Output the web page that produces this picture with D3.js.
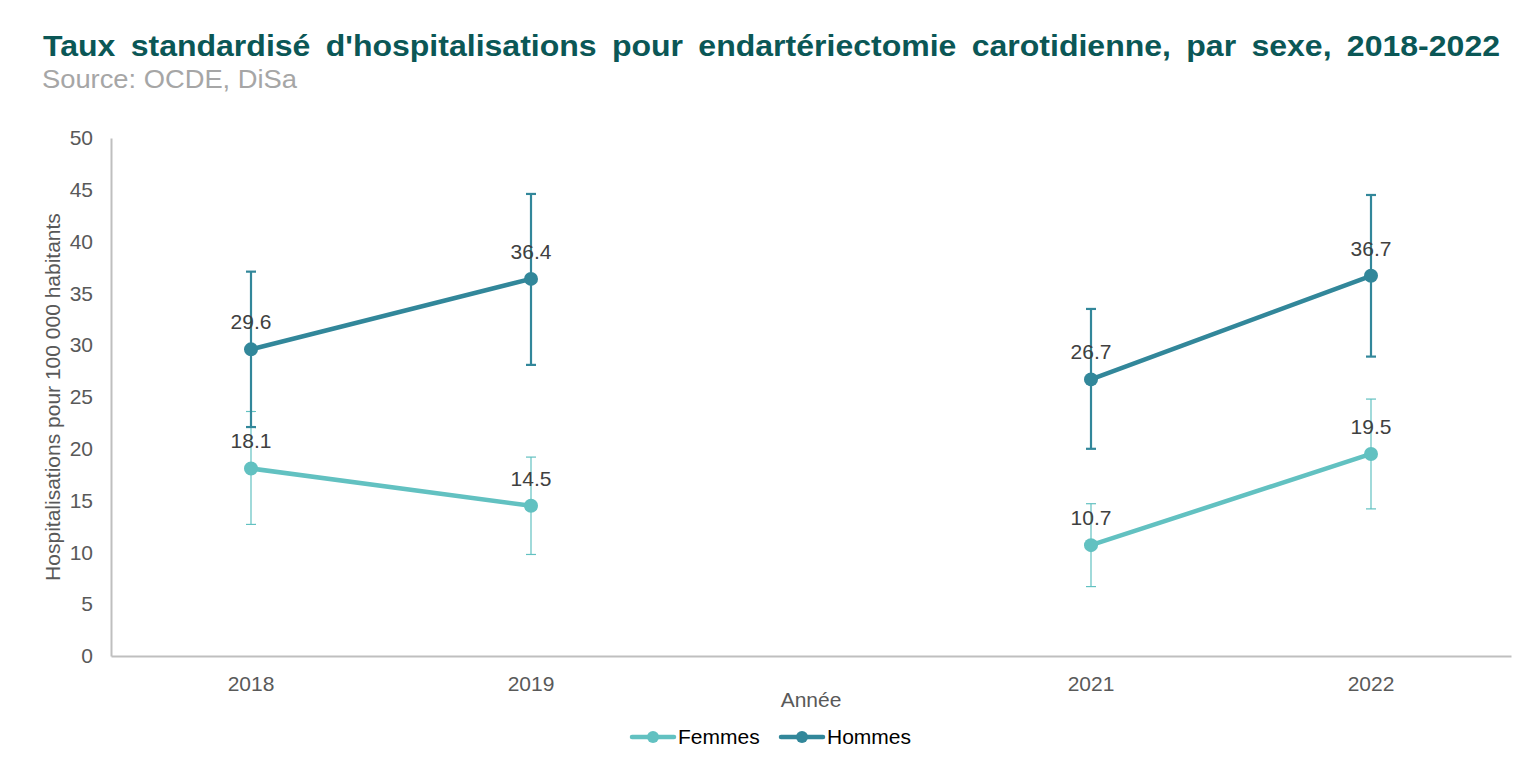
<!DOCTYPE html>
<html><head><meta charset="utf-8">
<script src="https://cdn.jsdelivr.net/npm/d3@7"></script>
<style>body{margin:0;background:#fff;} svg{display:block;font-family:"Liberation Sans",Arial,sans-serif;}</style>
</head><body><svg id="c" width="1536" height="767"></svg>
<script>
const categories = ["2018","2019","2020","2021","2022"];
const tickLabels = ["2018","2019","","2021","2022"];
const yTicks = [0,5,10,15,20,25,30,35,40,45,50];
const femmes = [18.1, 14.5, null, 10.7, 19.5];
const femmesLow = [12.7, 9.8, null, 6.7, 14.2];
const femmesHigh = [23.6, 19.2, null, 14.7, 24.8];
const hommes = [29.6, 36.4, null, 26.7, 36.7];
const hommesLow = [22.1, 28.1, null, 20.0, 28.9];
const hommesHigh = [37.1, 44.6, null, 33.5, 44.5];
const seriesNames = ["Femmes","Hommes"];
const colors = ["#62c1c1","#32879a"];

const svg = d3.select("#c");
const x = d3.scaleBand().domain(categories).range([111,1511]).padding(0);
const y = d3.scaleLinear().domain([0,50]).range([656,138]);
const cx = c => x(c) + x.bandwidth()/2;
const FS = 21;

// title
svg.append("text").attr("x",43).attr("y",56).attr("font-size",30).attr("font-weight","bold")
  .attr("fill","#0b5756").attr("textLength",1457).attr("lengthAdjust","spacingAndGlyphs")
  .attr("word-spacing",6)
  .text("Taux standardisé d'hospitalisations pour endartériectomie carotidienne, par sexe, 2018-2022");
svg.append("text").attr("x",42).attr("y",88).attr("font-size",25).attr("fill","#a6a6a6")
  .attr("textLength",255).attr("lengthAdjust","spacingAndGlyphs")
  .text("Source: OCDE, DiSa");

// axes
const yAxis = svg.append("g").attr("transform","translate(111,0)")
  .call(d3.axisLeft(y).tickValues(yTicks).tickSize(0).tickPadding(18));
yAxis.select(".domain").attr("stroke","#bfbfbf").attr("stroke-width",2);
yAxis.selectAll("text").attr("font-size",FS).attr("fill","#595959").attr("font-family","Liberation Sans, Arial, sans-serif");

const xAxis = svg.append("g").attr("transform","translate(0,656)")
  .call(d3.axisBottom(x).tickSize(0).tickPadding(20).tickFormat((d,i)=>tickLabels[i]));
xAxis.select(".domain").attr("stroke","#bfbfbf").attr("stroke-width",2);
xAxis.selectAll("text").attr("font-size",FS).attr("fill","#595959").attr("font-family","Liberation Sans, Arial, sans-serif");

svg.append("text").attr("x",cx("2020")).attr("y",707).attr("text-anchor","middle")
  .attr("font-size",FS).attr("fill","#595959").text("Année");
svg.append("text").attr("transform","translate(60,397) rotate(-90)").attr("text-anchor","middle")
  .attr("font-size",FS).attr("fill","#595959").text("Hospitalisations pour 100 000 habitants");

const series = [
  {name:"Femmes", vals:femmes, lo:femmesLow, hi:femmesHigh, color:colors[0], ew:1.2},
  {name:"Hommes", vals:hommes, lo:hommesLow, hi:hommesHigh, color:colors[1], ew:2.2}
];

const line = d3.line().defined(d=>d.v!==null).x(d=>cx(d.c)).y(d=>y(d.v));

series.forEach(s=>{
  const pts = categories.map((c,i)=>({c, v:s.vals[i], lo:s.lo[i], hi:s.hi[i]}));
  const valid = pts.filter(p=>p.v!==null);
  const g = svg.append("g");
  valid.forEach(p=>{
    g.append("line").attr("x1",cx(p.c)).attr("x2",cx(p.c)).attr("y1",y(p.lo)).attr("y2",y(p.hi))
      .attr("stroke",s.color).attr("stroke-width",s.ew);
    [p.lo,p.hi].forEach(v=>g.append("line").attr("x1",cx(p.c)-5).attr("x2",cx(p.c)+5)
      .attr("y1",y(v)).attr("y2",y(v)).attr("stroke",s.color).attr("stroke-width",s.ew));
  });
  g.append("path").datum(pts).attr("d",line).attr("fill","none").attr("stroke",s.color)
    .attr("stroke-width",4.5).attr("stroke-linecap","round");
  g.selectAll("circle").data(valid).join("circle").attr("cx",d=>cx(d.c)).attr("cy",d=>y(d.v))
    .attr("r",7).attr("fill",s.color);
});
series.forEach(s=>{
  categories.forEach((c,i)=>{
    if(s.vals[i]===null) return;
    svg.append("text").attr("x",cx(c)).attr("y",y(s.vals[i])-20).attr("text-anchor","middle")
      .attr("font-size",FS).attr("fill","#404040").text(s.vals[i].toFixed(1));
  });
});

// legend
const legendX = [632, 781];
series.forEach((s,i)=>{
  const lx = legendX[i];
  svg.append("line").attr("x1",lx).attr("x2",lx+42).attr("y1",737).attr("y2",737)
    .attr("stroke",s.color).attr("stroke-width",4.5).attr("stroke-linecap","round");
  svg.append("circle").attr("cx",lx+21).attr("cy",737).attr("r",6).attr("fill",s.color);
  svg.append("text").attr("x",lx+46).attr("y",744).attr("font-size",FS).attr("fill","#000").text(s.name);
});
</script></body></html>
